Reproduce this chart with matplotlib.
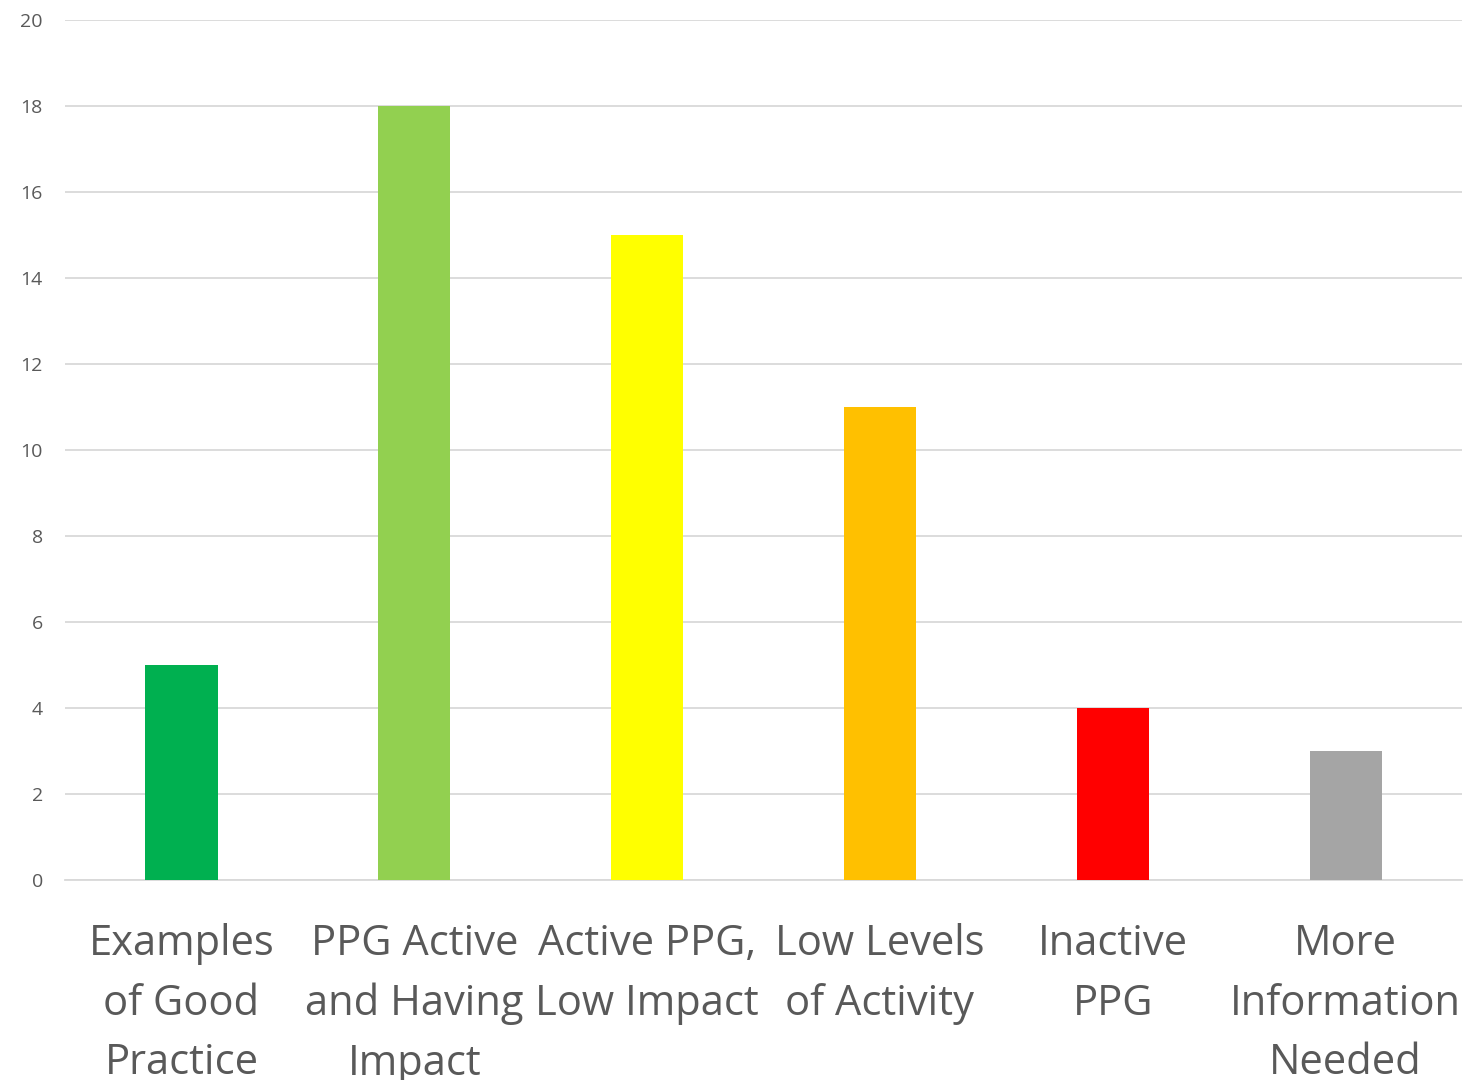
import matplotlib
matplotlib.use("Agg")
import matplotlib.pyplot as plt

# PPG activity categories and counts
categories = [
    "Examples\nof Good\nPractice",
    "PPG Active\nand Having\nImpact",
    "Active PPG,\nLow Impact",
    "Low Levels\nof Activity",
    "Inactive\nPPG",
    "More\nInformation\nNeeded",
]
counts = [5, 18, 15, 11, 4, 3]
colors = ["#00b050", "#92d050", "#ffff00", "#ffc000", "#ff0000", "#a5a5a5"]
y_ticks = [0, 2, 4, 6, 8, 10, 12, 14, 16, 18, 20]

plt.rcParams["font.family"] = ["Open Sans", "DejaVu Sans"]

fig = plt.figure(figsize=(14.71, 10.8), dpi=100)
ax = fig.add_axes([0.0442, 0.1852, 0.9497, 0.7963])

x = range(len(categories))
ax.bar(x, counts, width=0.31, color=colors, zorder=3)

ax.set_xlim(-0.5, len(categories) - 0.5)
ax.set_ylim(0, 20)
ax.set_yticks(y_ticks)
ax.set_xticks(list(x))
ax.set_xticklabels(categories, fontsize=30, color="#595959", linespacing=1.55)
ax.tick_params(axis="y", labelsize=14, labelcolor="#595959", length=0, pad=16)
ax.tick_params(axis="x", length=0, pad=31)

ax.grid(axis="y", color="#d9d9d9", linewidth=1.3, zorder=0)
for side in ["top", "right", "left"]:
    ax.spines[side].set_visible(False)
ax.spines["bottom"].set_color("#d9d9d9")
ax.spines["bottom"].set_linewidth(1.3)

fig.savefig("out.png", dpi=100)
